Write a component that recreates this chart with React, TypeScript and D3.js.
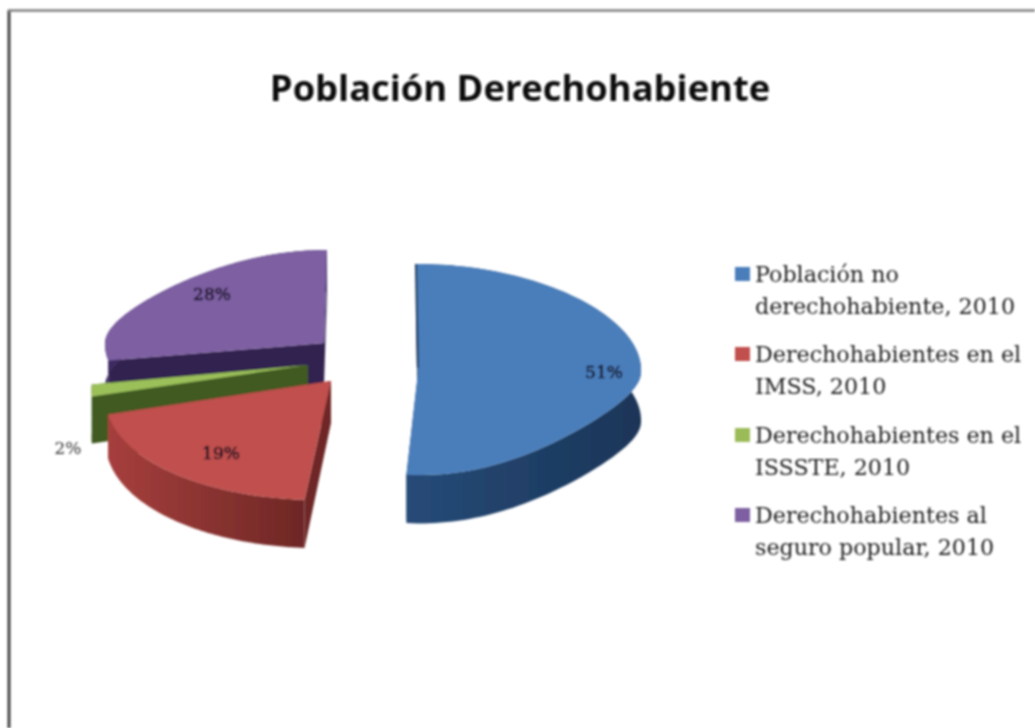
import React from "react";
import * as d3 from "d3";

const title = "Población Derechohabiente";
const categories = [
  ["Población no", "derechohabiente, 2010"],
  ["Derechohabientes en el", "IMSS, 2010"],
  ["Derechohabientes en el", "ISSSTE, 2010"],
  ["Derechohabientes al", "seguro popular, 2010"],
];
const values = [51, 19, 2, 28];
const percentLabels = ["51%", "19%", "2%", "28%"];

// Drawing styles and the exploded 3-D layout of each slice (index follows categories)
const topColors = ["#4a7ebb", "#c0504d", "#9bc05a", "#7d5fa2"];
const legendColors = ["#4a7ebb", "#c0504d", "#9bbb59", "#7d5fa2"];
const wallColors = [
  ["#264b78", "#1a3557"],
  ["#a63f3d", "#6e2725"],
  ["#4f6b26", "#3f5a20"],
  ["#3d2c62", "#33244f"],
];
const geometry = [
  { cx: 418, cy: 373, A: 223, C: 105.4, p: -0.033, skew: -2, H: 50, kBack: 0.05, kFront: 0.37 },
  { cx: 331, cy: 381, A: 222, C: 104, p: 0.127, skew: 10.5, H: 42, kBack: 0, kFront: 0 },
  { cx: 308, cy: 365, A: 210, C: 75, p: 0, skew: 53, H: 47, kBack: 0, kFront: -0.4 },
  { cx: 324, cy: 343, A: 219, C: 93, p: 0, skew: 3, H: 42, kBack: 0.3, kFront: 0 },
];
const labelPositions = [
  [604, 378],
  [212, 300],
  [68, 454],
  [221, 459],
];
const labelOrder = [0, 3, 2, 1];
const drawOrder = [3, 2, 1, 0];

const legendX = 755;
const legendSwatchX = 735;
const legendBaselines = [282, 362, 443, 523];
const legendLine = 32;

const arcs = d3.pie<number>().sort(null).value((d) => d)(values);

type G = (typeof geometry)[number];
const project = (g: G, a: number, r: number, drop: number): [number, number] => {
  const c = Math.cos(a);
  const s = Math.sin(a);
  const w = 1 / (1 + g.p * c * r);
  const shaped = c * (1 - (c >= 0 ? g.kBack : g.kFront) * (1 - c * c));
  return [g.cx + g.A * s * r * w + g.skew * c * r, g.cy - g.C * shaped * r * w + drop * w];
};
const line = d3.line<[number, number]>();
const sample = (a0: number, a1: number) => d3.range(0, 121).map((i) => a0 + ((a1 - a0) * i) / 120);

function topPath(g: G, a0: number, a1: number) {
  return line([project(g, 0, 0, 0), ...sample(a0, a1).map((a) => project(g, a, 1, 0))]) + "Z";
}
function wallPath(g: G, a0: number, a1: number) {
  const t = sample(a0, a1);
  return (
    line([
      ...t.map((a) => project(g, a, 1, 0)),
      ...t.slice().reverse().map((a) => project(g, a, 1, g.H)),
    ]) + "Z"
  );
}
function facePath(g: G, a: number) {
  return (
    line([project(g, a, 0, 0), project(g, a, 1, 0), project(g, a, 1, g.H), project(g, a, 0, g.H)]) + "Z"
  );
}

export default function App() {
  return (
    <svg
      width={1035}
      height={728}
      style={{ position: "absolute", left: 0, top: 0, background: "#fff" }}
    >
      <defs>
        <filter id="soft" x="-5%" y="-5%" width="110%" height="110%">
          <feGaussianBlur stdDeviation="0.8" />
        </filter>
        {wallColors.map((c, i) => (
          <linearGradient key={i} id={`wall${i}`} x1="0" x2="1" y1="0" y2="0">
            <stop offset="0" stopColor={c[0]} />
            <stop offset="1" stopColor={c[1]} />
          </linearGradient>
        ))}
      </defs>
      <g filter="url(#soft)">
        <line x1={9} y1={10} x2={9} y2={728} stroke="#444" strokeWidth={3} />
        <line x1={8} y1={10.5} x2={1035} y2={10.5} stroke="#808080" strokeWidth={2.5} />

        <text
          x={520}
          y={101}
          textAnchor="middle"
          fontFamily="'Open Sans', 'Noto Sans', sans-serif"
          fontWeight={700}
          fontSize={36.3}
          fill="#111"
        >
          {title}
        </text>

        {drawOrder.map((i) => {
          const g = geometry[i];
          const { startAngle: a0, endAngle: a1 } = arcs[i];
          return (
            <g key={i}>
              <path d={facePath(g, a1)} fill={wallColors[i][1]} />
              <path d={facePath(g, a0)} fill={wallColors[i][1]} />
              <path d={wallPath(g, a0, a1)} fill={`url(#wall${i})`} />
              <path d={topPath(g, a0, a1)} fill={topColors[i]} />
              {i === 0 && (
                <path
                  d={line([project(g, 0, 1, 0), project(g, 0, 0.05, 0)]) ?? ""}
                  stroke="#1a3658"
                  strokeWidth={2}
                  fill="none"
                />
              )}
            </g>
          );
        })}

        {labelOrder.map((idx, k) => (
          <text
            key={idx}
            x={labelPositions[k][0]}
            y={labelPositions[k][1]}
            textAnchor="middle"
            fontFamily="'DejaVu Serif', serif"
            fontSize={17}
            fill={idx === 2 ? "#333" : "#120c20"}
            stroke={idx === 2 ? "none" : "#120c20"}
            strokeWidth={0.5}
          >
            {percentLabels[idx]}
          </text>
        ))}

        {categories.map((lines, i) => (
          <g key={i}>
            <rect
              x={legendSwatchX}
              y={legendBaselines[i] - 15}
              width={15}
              height={14}
              fill={legendColors[i]}
            />
            {lines.map((l, j) => (
              <text
                key={j}
                x={legendX}
                y={legendBaselines[i] + j * legendLine}
                fontFamily="'DejaVu Serif', serif"
                fontSize={22.2}
                fill="#222"
              >
                {l}
              </text>
            ))}
          </g>
        ))}
      </g>
    </svg>
  );
}
